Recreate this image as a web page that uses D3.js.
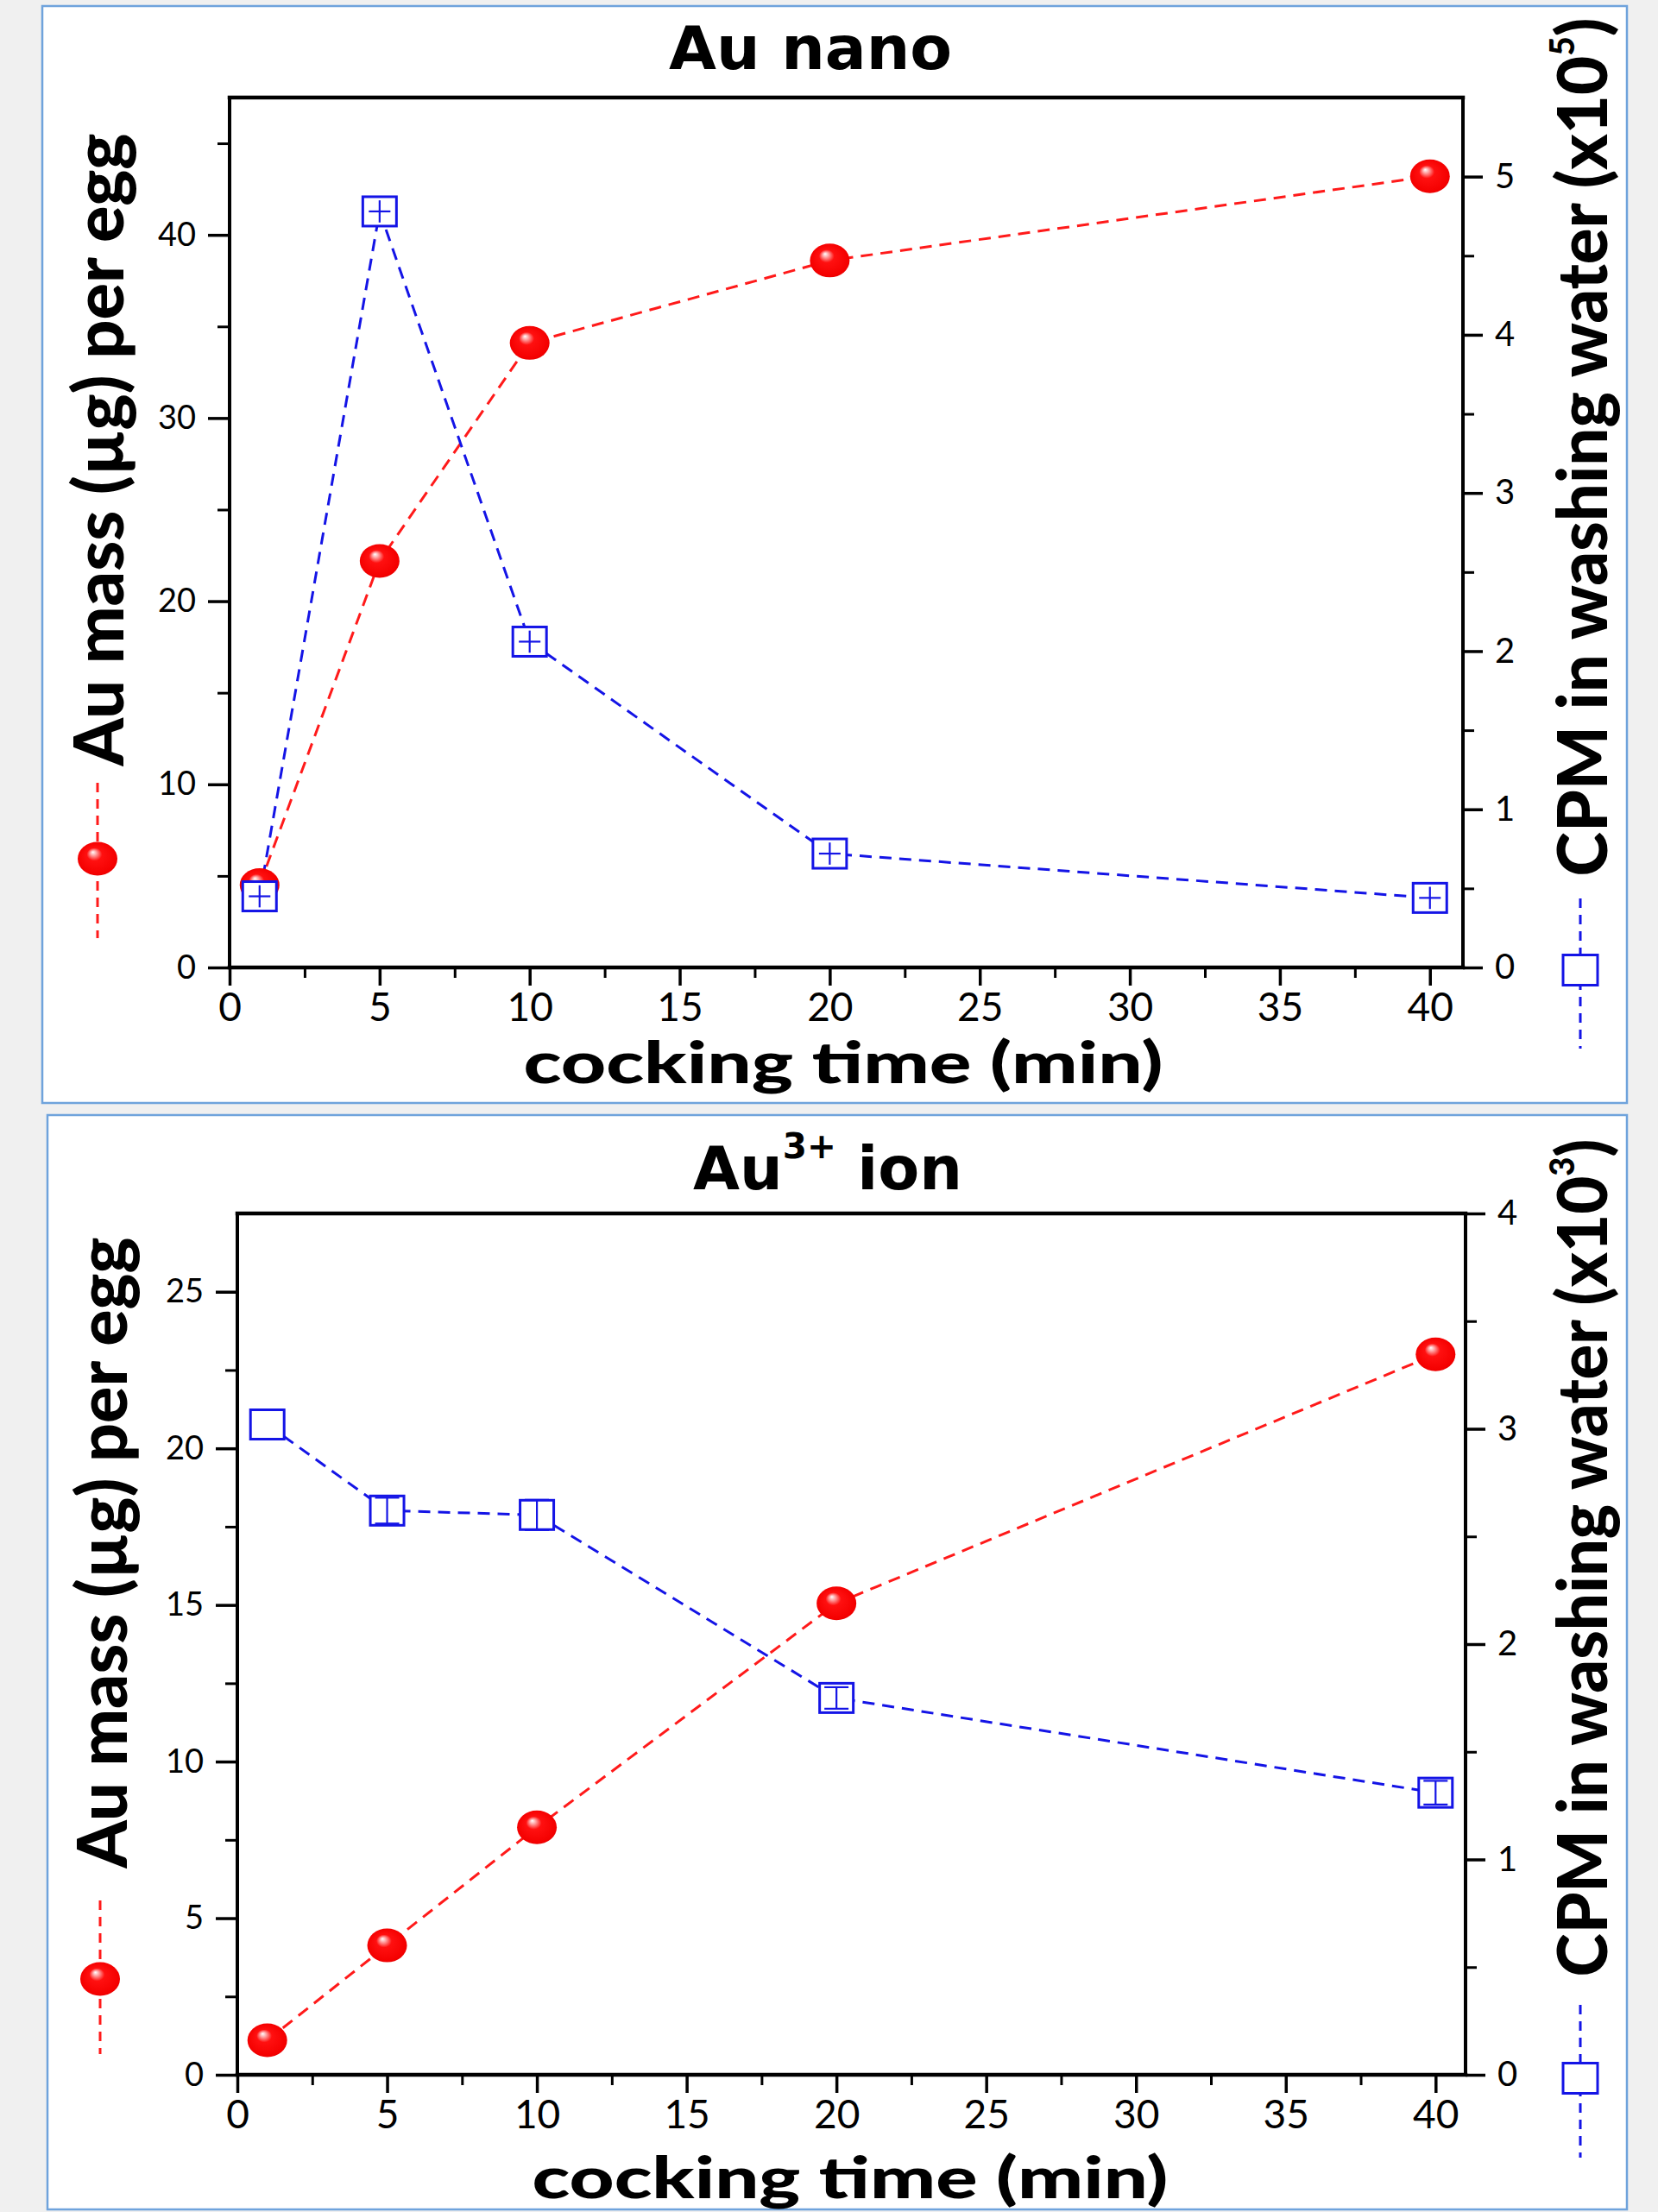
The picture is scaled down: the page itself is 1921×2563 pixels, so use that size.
<!DOCTYPE html>
<html>
<head>
<meta charset="utf-8">
<script src="https://cdn.jsdelivr.net/npm/d3@7"></script>
<style>
  html, body { margin: 0; padding: 0; background: #f0f0f0; }
  svg { display: block; }
</style>
</head>
<body>
<script>
// ---------------- DATA ----------------
const times = [1, 5, 10, 20, 40];
const xTicks = [0, 5, 10, 15, 20, 25, 30, 35, 40];

// Panel 1: Au nano
const nanoMass = [4.5, 22.2, 34.1, 38.6, 43.2];        // µg per egg (left axis)
const nanoCPM = [0.45, 4.78, 2.06, 0.72, 0.44];        // x10^5 (right axis)
const nanoCPMErr = [0.07, 0.07, 0.07, 0.07, 0.07];
const nanoTimeErr = [0.36, 0.36, 0.36, 0.36, 0.36];
const nanoLeftTicks = [0, 10, 20, 30, 40];
const nanoRightTicks = [0, 1, 2, 3, 4, 5];

// Panel 2: Au3+ ion
const ionMass = [1.1, 4.13, 7.9, 15.05, 23.0];          // µg per egg (left axis)
const ionCPM = [3.02, 2.62, 2.60, 1.75, 1.31];          // x10^3 (right axis)
const ionCPMErr = [0, 0.06, 0.07, 0.05, 0.055];
const ionLeftTicks = [0, 5, 10, 15, 20, 25];
const ionRightTicks = [0, 1, 2, 3, 4];

// ---------------- SETUP ----------------
const W = 1921, H = 2563;
const RED = "#ff1a1a", BLUE = "#1414e6";
const svg = d3.select("body").append("svg").attr("width", W).attr("height", H);
svg.append("rect").attr("width", W).attr("height", H).attr("fill", "#f0f0f0");

const defs = svg.append("defs");
const grad = defs.append("radialGradient").attr("id", "ball")
  .attr("cx", "50%").attr("cy", "50%").attr("r", "55%")
  .attr("fx", "38%").attr("fy", "30%");
grad.append("stop").attr("offset", "0%").attr("stop-color", "#ffffff");
grad.append("stop").attr("offset", "12%").attr("stop-color", "#ffb0b0");
grad.append("stop").attr("offset", "35%").attr("stop-color", "#ff1010");
grad.append("stop").attr("offset", "88%").attr("stop-color", "#f40000");
grad.append("stop").attr("offset", "100%").attr("stop-color", "#d80000");

function fitText(g, textSel, base, target) {
  const bw = textSel.node().getBBox().width;
  g.attr("transform", base + ` scale(${target / bw},1)`);
}

function drawPanel(c) {
  svg.append("rect").attr("x", c.box[0]).attr("y", c.box[1])
    .attr("width", c.box[2]).attr("height", c.box[3])
    .attr("fill", "#ffffff").attr("stroke", "#6fa3dc").attr("stroke-width", 2.5);

  const x = d3.scaleLinear().domain(c.xDomain).range(c.xRange);
  const yL = d3.scaleLinear().domain(c.yLDomain).range(c.yRange);
  const yR = d3.scaleLinear().domain(c.yRDomain).range(c.yRange);
  const g = svg.append("g");

  const fontTick = "Lato, 'Open Sans', sans-serif";

  const xMinor = d3.range(c.xDomain[0] + 2.5, c.xDomain[1], 5).filter(v => !xTicks.includes(v));
  g.append("g").attr("transform", `translate(0,${c.yRange[0]})`)
    .call(d3.axisBottom(x).tickValues(xMinor).tickSize(12).tickFormat(""))
    .call(s => s.select(".domain").remove())
    .call(s => s.selectAll("line").attr("stroke", "#000").attr("stroke-width", 3));
  g.append("g").attr("transform", `translate(0,${c.yRange[0]})`)
    .call(d3.axisBottom(x).tickValues(xTicks).tickSize(21).tickPadding(8).tickFormat(d3.format("d")))
    .call(s => s.select(".domain").remove())
    .call(s => s.selectAll("line").attr("stroke", "#000").attr("stroke-width", 3.5))
    .call(s => s.selectAll("text").attr("font-family", fontTick).attr("font-size", 46).attr("fill", "#000"));

  const lStep = c.leftTicks[1] - c.leftTicks[0];
  const lMinor = d3.range(lStep / 2, c.yLDomain[1] - 0.01, lStep);
  g.append("g").attr("transform", `translate(${c.xRange[0]},0)`)
    .call(d3.axisLeft(yL).tickValues(lMinor).tickSize(14).tickFormat(""))
    .call(s => s.select(".domain").remove())
    .call(s => s.selectAll("line").attr("stroke", "#000").attr("stroke-width", 3));
  g.append("g").attr("transform", `translate(${c.xRange[0]},0)`)
    .call(d3.axisLeft(yL).tickValues(c.leftTicks).tickSize(25).tickPadding(14).tickFormat(d3.format("d")))
    .call(s => s.select(".domain").remove())
    .call(s => s.selectAll("line").attr("stroke", "#000").attr("stroke-width", 3.5))
    .call(s => s.selectAll("text").attr("font-family", fontTick).attr("font-size", 38).attr("fill", "#000"));

  const rMinor = d3.range(0.5, c.yRDomain[1] - 0.01, 1);
  g.append("g").attr("transform", `translate(${c.xRange[1]},0)`)
    .call(d3.axisRight(yR).tickValues(rMinor).tickSize(13).tickFormat(""))
    .call(s => s.select(".domain").remove())
    .call(s => s.selectAll("line").attr("stroke", "#000").attr("stroke-width", 3));
  g.append("g").attr("transform", `translate(${c.xRange[1]},0)`)
    .call(d3.axisRight(yR).tickValues(c.rightTicks).tickSize(23).tickPadding(14).tickFormat(d3.format("d")))
    .call(s => s.select(".domain").remove())
    .call(s => s.selectAll("line").attr("stroke", "#000").attr("stroke-width", 3.5))
    .call(s => s.selectAll("text").attr("font-family", fontTick).attr("font-size", 40).attr("fill", "#000"));

  const [x0, x1] = c.xRange, [yb, yt] = c.yRange;
  const frame = g.append("g").attr("stroke", "#000").attr("stroke-linecap", "square");
  frame.append("line").attr("x1", x0).attr("x2", x1).attr("y1", yt).attr("y2", yt).attr("stroke-width", 4.5);
  frame.append("line").attr("x1", x0).attr("x2", x1).attr("y1", yb).attr("y2", yb).attr("stroke-width", 4.5);
  frame.append("line").attr("x1", x0).attr("x2", x0).attr("y1", yt).attr("y2", yb).attr("stroke-width", 4);
  frame.append("line").attr("x1", x1).attr("x2", x1).attr("y1", yt).attr("y2", yb).attr("stroke-width", 4);

  const redLine = d3.line().x((d, i) => x(times[i])).y(d => yL(d));
  const blueLine = d3.line().x((d, i) => x(times[i])).y(d => yR(d));
  g.append("path").attr("d", redLine(c.mass)).attr("fill", "none")
    .attr("stroke", RED).attr("stroke-width", 3).attr("stroke-dasharray", "14,9");
  g.append("path").attr("d", blueLine(c.cpm)).attr("fill", "none")
    .attr("stroke", BLUE).attr("stroke-width", 3).attr("stroke-dasharray", "14,9");

  g.selectAll("ellipse.m").data(c.mass).enter().append("ellipse")
    .attr("cx", (d, i) => x(times[i])).attr("cy", d => yL(d))
    .attr("rx", 23).attr("ry", 19.5).attr("fill", "url(#ball)");

  g.selectAll("rect.m").data(c.cpm).enter().append("rect")
    .attr("x", (d, i) => x(times[i]) - 19.5).attr("y", d => yR(d) - 17)
    .attr("width", 39).attr("height", 34)
    .attr("fill", "#fff").attr("stroke", BLUE).attr("stroke-width", 3);

  const eb = g.append("g").attr("stroke", BLUE).attr("stroke-width", 2.2);
  c.cpm.forEach((v, i) => {
    const cx = x(times[i]);
    const e = c.cpmErr[i];
    if (e > 0) {
      eb.append("line").attr("x1", cx).attr("x2", cx).attr("y1", yR(v - e)).attr("y2", yR(v + e));
      if (c.caps) {
        [v - e, v + e].forEach(t => eb.append("line").attr("x1", cx - 14).attr("x2", cx + 14)
          .attr("y1", yR(t)).attr("y2", yR(t)));
      }
    }
    if (c.timeErr) {
      const te = c.timeErr[i];
      eb.append("line").attr("x1", x(times[i] - te)).attr("x2", x(times[i] + te))
        .attr("y1", yR(v)).attr("y2", yR(v));
    }
  });

  const lg = c.legL;
  svg.append("line").attr("x1", lg[0]).attr("x2", lg[0]).attr("y1", lg[1]).attr("y2", lg[2])
    .attr("stroke", RED).attr("stroke-width", 3).attr("stroke-dasharray", "11,8");
  svg.append("ellipse").attr("cx", lg[0]).attr("cy", lg[3]).attr("rx", 23).attr("ry", 19.5).attr("fill", "url(#ball)");
  const rg = c.legR;
  svg.append("line").attr("x1", rg[0]).attr("x2", rg[0]).attr("y1", rg[1]).attr("y2", rg[2])
    .attr("stroke", BLUE).attr("stroke-width", 3).attr("stroke-dasharray", "11,8");
  svg.append("rect").attr("x", rg[0] - 20).attr("y", rg[3] - 17.5).attr("width", 40).attr("height", 35)
    .attr("fill", "#fff").attr("stroke", BLUE).attr("stroke-width", 3);

  const fontTitle = "Lato, 'Open Sans', sans-serif";
  const gl = svg.append("g");
  const tl = gl.append("text").attr("text-anchor", "middle").attr("font-family", fontTitle)
    .attr("font-weight", 900).attr("font-size", 80).attr("fill", "#000").text("Au mass (µg) per egg");
  fitText(gl, tl, `translate(${c.leftTitle[0]},${c.leftTitle[1]}) rotate(-90)`, c.leftTitle[2]);

  const gr = svg.append("g");
  const tr = gr.append("text").attr("text-anchor", "middle").attr("font-family", fontTitle)
    .attr("font-weight", 900).attr("font-size", 80).attr("fill", "#000");
  tr.append("tspan").text("CPM in washing water (x10");
  tr.append("tspan").attr("dy", -38).attr("font-size", 40).text(c.exp);
  tr.append("tspan").attr("dy", 38).text(")");
  fitText(gr, tr, `translate(${c.rightTitle[0]},${c.rightTitle[1]}) rotate(-90)`, c.rightTitle[2]);

  const gx = svg.append("g");
  const tx = gx.append("text").attr("text-anchor", "middle").attr("font-family", fontTitle)
    .attr("font-weight", 900).attr("font-size", 66).attr("fill", "#000").text("cocking time (min)");
  fitText(gx, tx, `translate(${c.xTitle[0]},${c.xTitle[1]})`, c.xTitle[2]);

  const gt = svg.append("g");
  const tt = gt.append("text").attr("text-anchor", "middle")
    .attr("font-family", "'DejaVu Sans', Verdana, sans-serif").attr("font-weight", "bold")
    .attr("font-size", 69).attr("fill", "#000");
  c.title(tt);
  fitText(gt, tt, `translate(${c.titlePos[0]},${c.titlePos[1]})`, c.titlePos[2]);
}

drawPanel({
  box: [49, 7, 1836, 1271],
  xDomain: [0, 41.1], xRange: [266, 1695],
  yLDomain: [0, 47.5], yRDomain: [0, 5.5], yRange: [1121, 113],
  leftTicks: nanoLeftTicks, rightTicks: nanoRightTicks,
  mass: nanoMass, cpm: nanoCPM, cpmErr: nanoCPMErr, timeErr: nanoTimeErr, caps: false,
  legL: [113, 907, 1087, 995], legR: [1831, 1041, 1215, 1124],
  leftTitle: [143, 521, 734], rightTitle: [1862, 518, 995], xTitle: [977, 1255, 741],
  exp: "5",
  title: t => t.text("Au nano"),
  titlePos: [939, 80, 328]
});

drawPanel({
  box: [55, 1292, 1830, 1268],
  xDomain: [0, 41], xRange: [275, 1698],
  yLDomain: [0, 27.5], yRDomain: [0, 4], yRange: [2404, 1406],
  leftTicks: ionLeftTicks, rightTicks: ionRightTicks,
  mass: ionMass, cpm: ionCPM, cpmErr: ionCPMErr, timeErr: null, caps: true,
  legL: [116, 2202, 2380, 2293], legR: [1831, 2323, 2500, 2408],
  leftTitle: [147, 1799, 732], rightTitle: [1862, 1805, 971], xTitle: [985, 2547, 737],
  exp: "3",
  title: t => {
    t.append("tspan").text("Au");
    t.append("tspan").attr("dy", -36).attr("font-size", 40).text("3+");
    t.append("tspan").attr("dy", 36).text(" ion");
  },
  titlePos: [959, 1378, 312]
});
</script>
</body>
</html>
